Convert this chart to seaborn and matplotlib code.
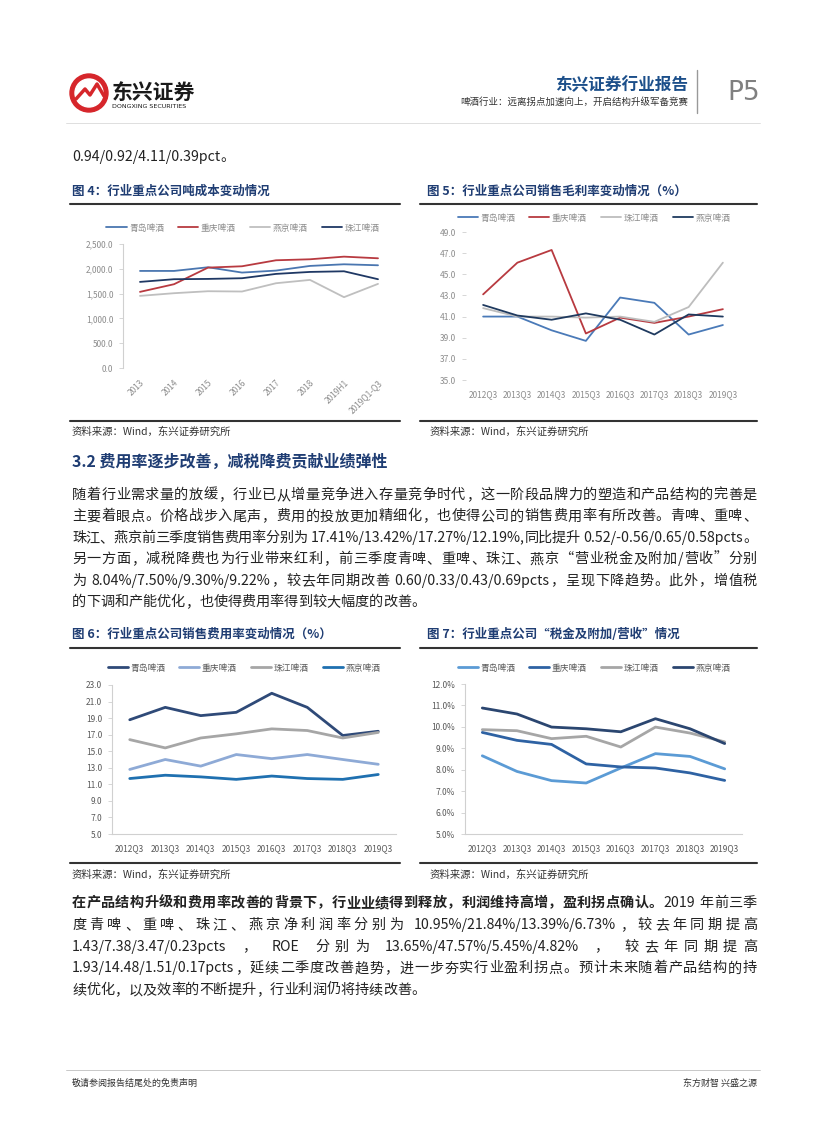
import re
import matplotlib
matplotlib.use('Agg')
import numpy as np
import pandas as pd
import seaborn as sns
import matplotlib.pyplot as plt
from matplotlib.lines import Line2D
from matplotlib.patches import Ellipse
from matplotlib.ticker import FuncFormatter

# --- data ---
companies = ['青岛啤酒', '重庆啤酒', '珠江啤酒', '燕京啤酒']

years_cost = ['2013', '2014', '2015', '2016', '2017', '2018', '2019H1', '2019Q1-Q3']
cost_qingdao = [1957, 1957, 2031, 1924, 1964, 2058, 2091, 2071]
cost_chongqing = [1535, 1689, 2024, 2051, 2172, 2192, 2245, 2212]
cost_yanjing = [1454, 1508, 1548, 1542, 1709, 1776, 1428, 1696]
cost_zhujiang = [1736, 1790, 1796, 1810, 1897, 1937, 1950, 1790]

quarters = ['2012Q3', '2013Q3', '2014Q3', '2015Q3', '2016Q3', '2017Q3', '2018Q3', '2019Q3']
gm_qingdao = [41.0, 41.0, 39.7, 38.7, 42.8, 42.3, 39.3, 40.2]
gm_chongqing = [43.1, 46.1, 47.3, 39.4, 40.9, 40.4, 41.0, 41.7]
gm_zhujiang = [41.8, 41.0, 41.0, 40.9, 41.0, 40.5, 41.9, 46.1]
gm_yanjing = [42.1, 41.1, 40.7, 41.3, 40.7, 39.3, 41.2, 41.0]

sell_qingdao = [18.8, 20.3, 19.3, 19.7, 22.0, 20.3, 16.9, 17.41]
sell_chongqing = [12.8, 14.0, 13.2, 14.6, 14.1, 14.6, 14.0, 13.42]
sell_zhujiang = [16.4, 15.4, 16.6, 17.1, 17.7, 17.5, 16.6, 17.27]
sell_yanjing = [11.7, 12.1, 11.9, 11.6, 12.0, 11.7, 11.6, 12.19]

tax_qingdao = [8.65, 7.92, 7.49, 7.38, 8.08, 8.75, 8.62, 8.04]
tax_chongqing = [9.74, 9.37, 9.18, 8.27, 8.13, 8.08, 7.85, 7.50]
tax_zhujiang = [9.87, 9.82, 9.45, 9.56, 9.06, 9.99, 9.71, 9.30]
tax_yanjing = [10.88, 10.60, 9.99, 9.91, 9.77, 10.38, 9.91, 9.22]

# --- page setup ---
sns.set_style('white')
plt.rcParams['font.family'] = ['Noto Sans CJK SC', 'DejaVu Sans']
W, H = 827, 1122
fig = plt.figure(figsize=(8.27, 11.22), dpi=100)
renderer = fig.canvas.get_renderer()

NAVY = '#1f3d73'
BODY = '#222222'


def fx(x):
    return x / W


def fy(y):
    return 1 - y / H


def hline(y, x0, x1, color='#333333', lw=1.5):
    fig.add_artist(Line2D([fx(x0), fx(x1)], [fy(y), fy(y)], color=color, lw=lw,
                          transform=fig.transFigure))


def put_line(y, segs, x0=72, x1=757, size=10.2, justify=True, color=BODY):
    # lay one line of body text out token by token so both edges line up
    items = []
    for s, bold in segs:
        for t in re.findall(r'[\x21-\x7e]+| +|.', s):
            if t.isspace():
                items.append((None, size * 0.3 * len(t) * 100 / 72))
            else:
                txt = fig.text(0, fy(y), t, fontsize=size, color=color, va='center',
                               fontweight='bold' if bold else 'normal')
                items.append((txt, txt.get_window_extent(renderer).width))
    total = sum(w for _, w in items)
    gap = (x1 - x0 - total) / (len(items) - 1) if justify and len(items) > 1 else 0
    x = x0
    for txt, w in items:
        if txt is not None:
            txt.set_x(fx(x))
        x += w + gap


def line_chart(rect, cats, series, colors, ylim, yticks, fmt, lw, legend_xy,
               rot=False, spines=True, tick_color='#7f7f7f'):
    x0, y0, x1, y1 = rect
    ax = fig.add_axes([fx(x0), fy(y1), (x1 - x0) / W, (y1 - y0) / H])
    rows = []
    for name in colors:
        for c, v in zip(cats, series[name]):
            rows.append({'period': c, 'company': name, 'value': v})
    df = pd.DataFrame(rows)
    sns.lineplot(data=df, x='period', y='value', hue='company', palette=colors,
                 sort=False, lw=lw, legend=False, ax=ax)
    ax.set_xlim(-0.5, len(cats) - 0.5)
    ax.set_ylim(*ylim)
    ax.set_yticks(yticks)
    ax.yaxis.set_major_formatter(FuncFormatter(fmt))
    ax.set_xlabel('')
    ax.set_ylabel('')
    for sp in ax.spines.values():
        sp.set_visible(False)
    if spines:
        ax.spines['left'].set_visible(True)
        ax.spines['left'].set_color('#d0d0d0')
        ax.spines['left'].set_linewidth(0.8)
        if spines == 'both':
            ax.spines['bottom'].set_visible(True)
            ax.spines['bottom'].set_color('#d0d0d0')
            ax.spines['bottom'].set_linewidth(0.8)
    ax.tick_params(axis='y', left=True, length=3, width=0.6, color='#d0d0d0',
                   labelsize=6, labelcolor=tick_color, pad=4)
    ax.tick_params(axis='x', bottom=False, labelsize=6, labelcolor=tick_color, pad=4)
    if rot:
        plt.setp(ax.get_xticklabels(), rotation=45, ha='right', rotation_mode='anchor')
    handles = [Line2D([], [], color=colors[n], lw=lw) for n in colors]
    leg = ax.legend(handles, list(colors), loc='center', ncol=4, frameon=False,
                    bbox_to_anchor=(fx(legend_xy[0]), fy(legend_xy[1])),
                    bbox_transform=fig.transFigure, fontsize=6.3, handlelength=2.3,
                    handletextpad=0.3, columnspacing=1.6)
    for t in leg.get_texts():
        t.set_color(tick_color)
    return ax


# --- header ---
fig.add_artist(Ellipse((fx(89), fy(93)), 38 / W, 38 / H, color='#d6262b',
                       transform=fig.transFigure))
fig.add_artist(Ellipse((fx(89), fy(93)), 28 / W, 28 / H, color='white',
                       transform=fig.transFigure))
fig.add_artist(Line2D([fx(76), fx(85), fx(90), fx(97), fx(104)],
                      [fy(99), fy(89), fy(95), fy(84), fy(96)], color='#d6262b', lw=2.5,
                      transform=fig.transFigure))
fig.text(fx(112), fy(92), '东兴证券', fontsize=15, fontweight='bold', color='#1a1a1a',
         va='center')
fig.text(fx(112), fy(107), 'DONGXING SECURITIES', fontsize=4.6, color='#1a1a1a',
         va='center', family='DejaVu Sans')
fig.text(fx(688), fy(85), '东兴证券行业报告', fontsize=12, fontweight='bold',
         color='#1c4f8a', ha='right', va='center')
fig.text(fx(688), fy(102), '啤酒行业：远离拐点加速向上，开启结构升级军备竞赛', fontsize=6.8,
         color='#333333', ha='right', va='center')
fig.add_artist(Line2D([fx(697), fx(697)], [fy(70), fy(113)], color='#999999', lw=1,
                      transform=fig.transFigure))
fig.text(fx(727), fy(93), 'P5', fontsize=19, color='#808080', va='center',
         family='DejaVu Sans')
hline(123, 66, 760, color='#d9d9d9', lw=0.6)

put_line(157, [('0.94/0.92/4.11/0.39pct。', False)], justify=False)

# --- figure 4 / 5 ---
fig.text(fx(72), fy(191), '图 4：行业重点公司吨成本变动情况', fontsize=9, fontweight='bold',
         color=NAVY, va='center')
fig.text(fx(427), fy(191), '图 5：行业重点公司销售毛利率变动情况（%）', fontsize=9,
         fontweight='bold', color=NAVY, va='center')
hline(204, 70, 400)
hline(204, 420, 757)

line_chart((123, 244, 395, 368), years_cost,
           {'青岛啤酒': cost_qingdao, '重庆啤酒': cost_chongqing,
            '燕京啤酒': cost_yanjing, '珠江啤酒': cost_zhujiang},
           {'青岛啤酒': '#4a76b0', '重庆啤酒': '#b83a40', '燕京啤酒': '#bfbfbf',
            '珠江啤酒': '#1f3864'},
           (0, 2500), np.arange(0, 2501, 500), lambda v, p: f'{v:,.1f}', 1.3,
           (243, 228), rot=True, spines=True, tick_color='#8c8c8c')

line_chart((466, 232, 740, 380), quarters,
           {'青岛啤酒': gm_qingdao, '重庆啤酒': gm_chongqing,
            '珠江啤酒': gm_zhujiang, '燕京啤酒': gm_yanjing},
           {'青岛啤酒': '#4a7ab8', '重庆啤酒': '#b83a40', '珠江啤酒': '#bdbdbd',
            '燕京啤酒': '#1f3a5f'},
           (35, 49), np.arange(35, 49.1, 2), lambda v, p: f'{v:.1f}', 1.3,
           (594, 218), spines=False, tick_color='#8c8c8c')

hline(421, 70, 400)
hline(421, 420, 757)
fig.text(fx(72), fy(432), '资料来源：Wind，东兴证券研究所', fontsize=7.5, style='italic',
         color='#333333', va='center')
fig.text(fx(430), fy(432), '资料来源：Wind，东兴证券研究所', fontsize=7.5, style='italic',
         color='#333333', va='center')

# --- section 3.2 ---
fig.text(fx(72), fy(462), '3.2 费用率逐步改善，减税降费贡献业绩弹性', fontsize=11.5,
         fontweight='bold', color=NAVY, va='center')
para1 = [
    '随着行业需求量的放缓，行业已从增量竞争进入存量竞争时代，这一阶段品牌力的塑造和产品结构的完善是',
    '主要着眼点。价格战步入尾声，费用的投放更加精细化，也使得公司的销售费用率有所改善。青啤、重啤、',
    '珠江、燕京前三季度销售费用率分别为 17.41%/13.42%/17.27%/12.19%,同比提升 0.52/-0.56/0.65/0.58pcts。',
    '另一方面，减税降费也为行业带来红利，前三季度青啤、重啤、珠江、燕京“营业税金及附加/营收”分别',
    '为 8.04%/7.50%/9.30%/9.22%，较去年同期改善 0.60/0.33/0.43/0.69pcts，呈现下降趋势。此外，增值税',
    '的下调和产能优化，也使得费用率得到较大幅度的改善。',
]
for i, s in enumerate(para1):
    put_line(495 + i * 21.4, [(s, False)], justify=i < len(para1) - 1)

# --- figure 6 / 7 ---
fig.text(fx(72), fy(634), '图 6：行业重点公司销售费用率变动情况（%）', fontsize=9,
         fontweight='bold', color=NAVY, va='center')
fig.text(fx(427), fy(634), '图 7：行业重点公司“税金及附加/营收”情况', fontsize=9,
         fontweight='bold', color=NAVY, va='center')
hline(648, 70, 400)
hline(648, 420, 757)

line_chart((112, 685, 396, 834), quarters,
           {'青岛啤酒': sell_qingdao, '重庆啤酒': sell_chongqing,
            '珠江啤酒': sell_zhujiang, '燕京啤酒': sell_yanjing},
           {'青岛啤酒': '#2f4a78', '重庆啤酒': '#8eaad6', '珠江啤酒': '#a6a6a6',
            '燕京啤酒': '#1f70b0'},
           (5, 23), np.arange(5, 23.1, 2), lambda v, p: f'{v:.1f}', 2.0,
           (244, 668), spines='both', tick_color='#595959')

line_chart((465, 684, 742, 834), quarters,
           {'青岛啤酒': tax_qingdao, '重庆啤酒': tax_chongqing,
            '珠江啤酒': tax_zhujiang, '燕京啤酒': tax_yanjing},
           {'青岛啤酒': '#5b9bd5', '重庆啤酒': '#2e62a3', '珠江啤酒': '#a6a6a6',
            '燕京啤酒': '#2b4670'},
           (5, 12), np.arange(5, 12.1, 1), lambda v, p: f'{v:.1f}%', 2.0,
           (594, 668), spines='both', tick_color='#595959')

hline(863, 70, 400)
hline(863, 420, 757)
fig.text(fx(72), fy(875), '资料来源：Wind，东兴证券研究所', fontsize=7.5, style='italic',
         color='#333333', va='center')
fig.text(fx(430), fy(875), '资料来源：Wind，东兴证券研究所', fontsize=7.5, style='italic',
         color='#333333', va='center')

para2 = [
    [('在产品结构升级和费用率改善的背景下，行业业绩得到释放，利润维持高增，盈利拐点确认。', True),
     ('2019 年前三季', False)],
    [('度青啤、重啤、珠江、燕京净利润率分别为 10.95%/21.84%/13.39%/6.73%，较去年同期提高', False)],
    [('1.43/7.38/3.47/0.23pcts ， ROE 分别为 13.65%/47.57%/5.45%/4.82% ， 较去年同期提高', False)],
    [('1.93/14.48/1.51/0.17pcts，延续二季度改善趋势，进一步夯实行业盈利拐点。预计未来随着产品结构的持', False)],
    [('续优化，以及效率的不断提升，行业利润仍将持续改善。', False)],
]
for i, segs in enumerate(para2):
    put_line(903 + i * 21.8, segs, justify=i < len(para2) - 1)

# --- footer ---
hline(1070, 66, 760, color='#bfbfbf', lw=0.6)
fig.text(fx(72), fy(1083), '敬请参阅报告结尾处的免责声明', fontsize=6.5, color='#333333',
         va='center')
fig.text(fx(757), fy(1083), '东方财智 兴盛之源', fontsize=6.5, color='#333333',
         ha='right', va='center')

fig.savefig('out.png', dpi=100, facecolor='white')
